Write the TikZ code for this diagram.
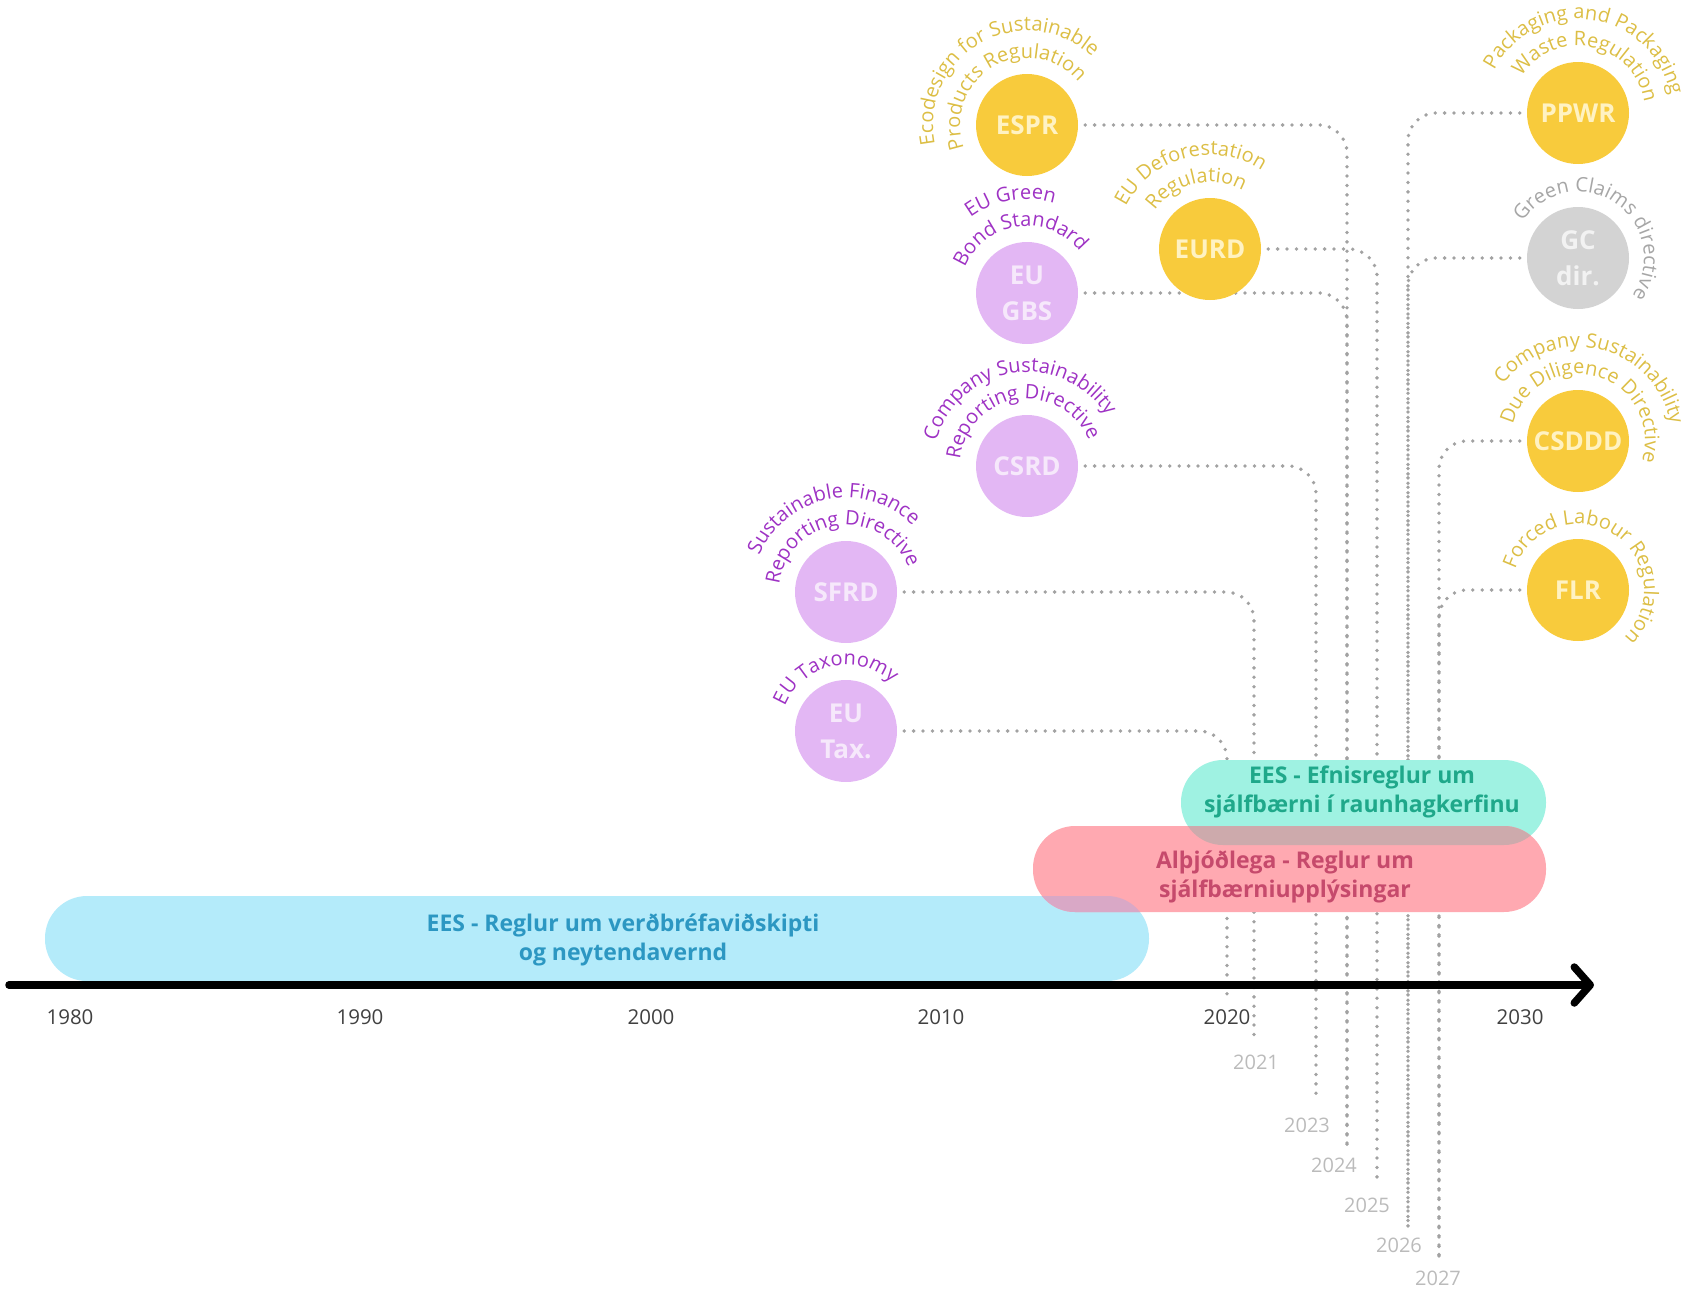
\documentclass[tikz,border=0pt]{standalone}
\usepackage{fontspec}
\setmainfont{Open Sans}
\usetikzlibrary{arrows.meta,decorations.text}
\pgfdeclarelayer{lines}
\pgfdeclarelayer{bars}
\pgfsetlayers{lines,bars,main}
\definecolor{yel}{HTML}{F8CB3C}
\definecolor{yeltext}{HTML}{FFF2C2}
\definecolor{yellab}{HTML}{DCBE45}
\definecolor{pur}{HTML}{E3B7F4}
\definecolor{purtext}{HTML}{F6E8FB}
\definecolor{purlab}{HTML}{9E32C4}
\definecolor{gre}{HTML}{D3D3D3}
\definecolor{gretext}{HTML}{F2F2F2}
\definecolor{grelab}{HTML}{A6A6A6}
\definecolor{bluebar}{HTML}{B4EBFA}
\definecolor{bluetxt}{HTML}{2C97C2}
\definecolor{pinkbar}{HTML}{FFA9B1}
\definecolor{pinktxt}{HTML}{C64A6C}
\definecolor{tealbar}{HTML}{9FF2E2}
\definecolor{tealtxt}{HTML}{1FA88A}
\definecolor{bpover}{HTML}{D9A8C6}
\definecolor{tpover}{HTML}{CDAAAC}
\definecolor{dotgrey}{HTML}{A2A2A2}
\definecolor{yeargrey}{HTML}{BBBBBB}
\definecolor{axistxt}{HTML}{404040}
\newcommand\arcfont{\fontsize{20}{24}\selectfont}
% node name, radius, centre angle, colour, text
\newcommand\arclabel[5]{%
  \path[shift={(#1.center)}, decorate,
        decoration={text along path, text align=center, text={|\arcfont\color{#4}|#5}}]
    (#3+150:#2pt) arc[start angle=#3+150, end angle=#3-150, radius=#2pt];}
\tikzset{
  circ/.style={circle, minimum size=102pt, inner sep=0pt, align=center,
               font=\fontsize{26}{36}\selectfont\bfseries},
  ycirc/.style={circ, fill=yel, text=yeltext},
  pcirc/.style={circ, fill=pur, text=purtext},
  gcirc/.style={circ, fill=gre, text=gretext},
  dotline/.style={draw=dotgrey, line width=3.8pt, line cap=round,
                  dash pattern=on 0pt off 9.4pt, rounded corners=28pt},
  barshape/.style={rounded corners=42pt},
  bartext/.style={font=\fontsize{23}{29.5}\selectfont\bfseries, align=center},
  axislab/.style={font=\fontsize{20.5}{24}\selectfont, text=axistxt},
  yearlab/.style={font=\fontsize{20}{24}\selectfont, text=yeargrey},
  axisline/.style={line width=7.5pt, line cap=round,
                   -{Straight Barb[length=16pt,width=36pt,round]}}
}
\begin{document}
\begin{tikzpicture}[x=1pt,y=-1pt]
\useasboundingbox (0,0) rectangle (1687,1290);
% end points of the year lines
\coordinate (y2020) at (1227,1000);
\coordinate (y2021) at (1254,1038);
\coordinate (y2023) at (1316,1098);
\coordinate (y2024) at (1347,1147);
\coordinate (y2025) at (1377,1178);
\coordinate (y2026) at (1408,1228);
\coordinate (y2027) at (1439,1263);
% circles
\node[ycirc] (ESPR) at (1027,125) {ESPR};
\node[pcirc] (GBS) at (1027,293) {EU\\GBS};
\node[ycirc] (EURD) at (1210,249) {EURD};
\node[pcirc] (CSRD) at (1027,466) {CSRD};
\node[pcirc] (SFRD) at (846,592) {SFRD};
\node[pcirc] (TAX) at (846,731) {EU\\Tax.};
\node[ycirc] (PPWR) at (1578,113) {PPWR};
\node[gcirc] (GC) at (1578,258) {GC\\dir.};
\node[ycirc] (CSDDD) at (1578,441) {CSDDD};
\node[ycirc] (FLR) at (1578,590) {FLR};
% dotted connectors
\begin{pgfonlayer}{lines}
\draw[dotline] ([xshift=7pt]ESPR.east) -- (ESPR.east -| y2024) -- (y2024);
\draw[dotline] ([xshift=7pt]GBS.east) -- (GBS.east -| y2024) -- (y2024);
\draw[dotline] ([xshift=7pt]EURD.east) -- (EURD.east -| y2025) -- (y2025);
\draw[dotline] ([xshift=7pt]CSRD.east) -- (CSRD.east -| y2023) -- (y2023);
\draw[dotline] ([xshift=7pt]SFRD.east) -- (SFRD.east -| y2021) -- (y2021);
\draw[dotline] ([xshift=7pt]TAX.east) -- (TAX.east -| y2020) -- (y2020);
\draw[dotline] ([xshift=-7pt]PPWR.west) -- (PPWR.west -| y2026) -- (y2026);
\draw[dotline] ([xshift=-7pt]GC.west) -- (GC.west -| y2026) -- (y2026);
\draw[dotline] ([xshift=-7pt]CSDDD.west) -- (CSDDD.west -| y2027) -- (y2027);
\draw[dotline] ([xshift=-7pt]FLR.west) -- (FLR.west -| y2027) -- (y2027);
\end{pgfonlayer}
% bars
\begin{pgfonlayer}{bars}
\fill[bluebar, barshape] (45,896) rectangle (1149,981);
\fill[tealbar, barshape] (1181,760) rectangle (1546,845);
\fill[pinkbar, barshape] (1033,826) rectangle (1546,912);
\begin{scope}
  \clip[barshape] (45,896) rectangle (1149,981);
  \fill[bpover, barshape] (1033,826) rectangle (1546,912);
\end{scope}
\begin{scope}
  \clip[barshape] (1181,760) rectangle (1546,845);
  \fill[tpover, barshape] (1033,826) rectangle (1546,912);
\end{scope}
\end{pgfonlayer}
\node[bartext, text=bluetxt] (tblue) at (623,940) {EES - Reglur um verðbréfaviðskipti\\og neytendavernd};
\node[bartext, text=tealtxt] (tteal) at (1362,792) {EES - Efnisreglur um\\sjálfbærni í raunhagkerfinu};
\node[bartext, text=pinktxt] (tpink) at (1285,877) {Alþjóðlega - Reglur um\\sjálfbærniupplýsingar};
% axis
\coordinate (axL) at (9,985);
\coordinate (axR) at (1594,985);
\draw[axisline] (axL) -- (axR);
\foreach \yr/\xx in {1980/70,1990/360,2000/651,2010/941,2020/1227,2030/1520}
  \node[axislab] (ax\yr) at (\xx,1017) {\yr};
\node[yearlab] (l2021) at (1256,1062) {2021};
\node[yearlab] (l2023) at (1307,1125) {2023};
\node[yearlab] (l2024) at (1334,1165) {2024};
\node[yearlab] (l2025) at (1367,1205) {2025};
\node[yearlab] (l2026) at (1399,1245) {2026};
\node[yearlab] (l2027) at (1438,1278) {2027};
% curved labels
\arclabel{ESPR}{94}{119}{yellab}{Ecodesign for Sustainable}
\arclabel{ESPR}{67}{120}{yellab}{Products Regulation}
\arclabel{GBS}{94}{100}{purlab}{EU Green}
\arclabel{GBS}{67}{98}{purlab}{Bond Standard}
\arclabel{EURD}{94}{105}{yellab}{EU Deforestation}
\arclabel{EURD}{67}{103}{yellab}{Regulation}
\arclabel{CSRD}{94}{98.5}{purlab}{Company Sustainability}
\arclabel{CSRD}{67}{98.5}{purlab}{Reporting Directive}
\arclabel{SFRD}{94}{101}{purlab}{Sustainable Finance}
\arclabel{SFRD}{67}{97.5}{purlab}{Reporting Directive}
\arclabel{TAX}{66}{102}{purlab}{EU Taxonomy}
\arclabel{PPWR}{94}{82}{yellab}{Packaging and Packaging}
\arclabel{PPWR}{67}{78}{yellab}{Waste Regulation}
\arclabel{GC}{66}{56}{grelab}{Green Claims directive}
\arclabel{CSDDD}{94}{76.5}{yellab}{Company Sustainability}
\arclabel{CSDDD}{67}{74}{yellab}{Due Diligence Directive}
\arclabel{FLR}{66}{58}{yellab}{Forced Labour Regulation}
\end{tikzpicture}
\end{document}
